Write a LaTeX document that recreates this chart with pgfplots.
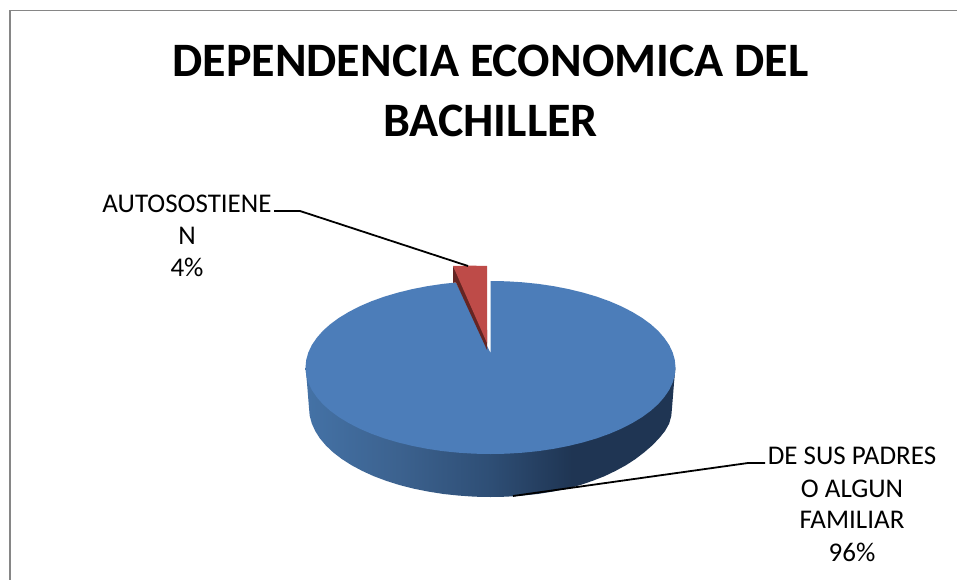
\documentclass[border=0pt]{standalone}
\usepackage{fontspec}
\setmainfont{Carlito}
\usepackage{pgfplots}
\pgfplotsset{compat=1.18}
\definecolor{topblue}{HTML}{4C7DB9}
\definecolor{redface}{HTML}{BE4B48}
\definecolor{reddark}{HTML}{652523}
\definecolor{frame}{HTML}{868686}
\definecolor{sa}{HTML}{4472A6}
\definecolor{sb}{HTML}{3C628F}
\definecolor{sc}{HTML}{2E4E75}
\definecolor{sd}{HTML}{1F3553}
\definecolor{se}{HTML}{1F3553}
\definecolor{sf}{HTML}{1F3553}
\pgfdeclarehorizontalshading{sideblue}{100bp}{
 color(0bp)=(sa);
 color(25bp)=(sa);
 color(37.5bp)=(sb);
 color(50bp)=(sc);
 color(61bp)=(sd);
 color(72bp)=(se);
 color(75bp)=(sf);
 color(100bp)=(sf)}
\begin{document}
\begin{tikzpicture}
\begin{axis}[scale only axis,width=957pt,height=580pt,xmin=0,xmax=957,ymin=0,ymax=580,
 y dir=reverse,axis lines=none,clip=true]
% page background keeps the full picture area
\addplot[draw=none,fill=white] coordinates {(0,0)(957,0)(957,580)(0,580)} -- cycle;
% frame
\addplot[frame,line width=2pt] coordinates {(10,580)(10,10.5)};
\addplot[frame,line width=1.5pt] coordinates {(9,10.5)(957,10.5)};
% side of the pie
\addplot[draw=none,shade,shading=sideblue] coordinates {
(305.5,367.5)(307,383)(309,408)(309.7,415.8)(311.8,423.5)(315.2,431)(319.9,438.4)(326,445.6)(333.3,452.5)(341.8,459)(351.5,465.2)(362.2,470.9)(373.8,476.2)(386.4,480.9)(399.7,485.1)(413.8,488.7)(428.4,491.6)(443.5,494)(459,495.6)(474.7,496.7)(490.5,497)
(506.3,496.7)(522,495.6)(537.5,494)(552.6,491.6)(567.2,488.7)(580,485.1)(592.5,480.9)(604.5,476.2)(615.5,470.9)(626,465.2)(635.5,459)(644,452.5)(652,445.6)(659,438.4)(665,431)(669.2,423.5)(671.3,415.8)(672,408)(674,383)(675.5,367.5)
} -- cycle;
% top of the large slice
\addplot[draw=none,fill=topblue] coordinates {
(490.5,353)(490.5,281)(506.6,281.3)(522.6,282.3)(538.4,283.9)(553.8,286.2)(568.7,289.1)(583,292.6)(596.6,296.6)(609.4,301.2)(621.3,306.3)(632.2,311.9)(642.1,317.9)(650.7,324.2)(658.2,330.9)(664.3,337.9)(669.2,345.1)(672.7,352.5)(674.8,360)(675.5,367.5)
(674.8,375)(672.7,382.5)(669.2,389.9)(664.3,397.1)(658.2,404.1)(650.7,410.8)(642.1,417.1)(632.2,423.1)(621.3,428.7)(609.4,433.8)(596.6,438.4)(583,442.4)(568.7,445.9)(553.8,448.8)(538.4,451.1)(522.6,452.7)(506.6,453.7)(490.5,454)
(474.4,453.7)(458.4,452.7)(442.6,451.1)(427.2,448.8)(412.3,445.9)(398,442.4)(384.4,438.4)(371.6,433.8)(359.7,428.7)(348.8,423.1)(338.9,417.1)(330.3,410.8)(322.8,404.1)(316.7,397.1)(311.8,389.9)(308.3,382.5)(306.2,375)(305.5,367.5)
(306.2,360)(308.3,352.5)(311.8,345.1)(316.7,337.9)(322.8,330.9)(330.3,324.2)(338.9,317.9)(348.8,311.9)(359.7,306.3)(371.6,301.2)(384.4,296.6)(398,292.6)(412.3,289.1)(427.2,286.2)(442.6,283.9)(456,282.5)
} -- cycle;
% small slice
\addplot[draw=none,fill=reddark] coordinates {(453,266)(453,282.8)(456,282.5)(487,350)(487,330)} -- cycle;
\addplot[draw=none,fill=redface] coordinates {(453,266)(470,265.6)(487,266)(487,343)} -- cycle;
% leader lines
\addplot[black,line width=1.8pt] coordinates {(274,211)(300,211)(468,266)};
\addplot[black,line width=1.8pt] coordinates {(513,496)(748,463)(765,463)};
% text
\node[anchor=base,font=\fontsize{48}{50}\selectfont\bfseries,inner sep=0pt] at (axis cs:490.5,77) {DEPENDENCIA ECONOMICA DEL};
\node[anchor=base,font=\fontsize{48}{50}\selectfont\bfseries,inner sep=0pt] at (axis cs:490.5,136.5) {BACHILLER};
\node[anchor=base,font=\fontsize{27}{28}\selectfont,inner sep=0pt] at (axis cs:187,212) {AUTOSOSTIENE};
\node[anchor=base,font=\fontsize{27}{28}\selectfont,inner sep=0pt] at (axis cs:187,244) {N};
\node[anchor=base,font=\fontsize{27}{28}\selectfont,inner sep=0pt] at (axis cs:187,276) {4\%};
\node[anchor=base,font=\fontsize{27}{28}\selectfont,inner sep=0pt] at (axis cs:852,464) {DE SUS PADRES};
\node[anchor=base,font=\fontsize{27}{28}\selectfont,inner sep=0pt] at (axis cs:852,497) {O ALGUN};
\node[anchor=base,font=\fontsize{27}{28}\selectfont,inner sep=0pt] at (axis cs:852,528) {FAMILIAR};
\node[anchor=base,font=\fontsize{27}{28}\selectfont,inner sep=0pt] at (axis cs:852,561) {96\%};
\end{axis}
\end{tikzpicture}
\end{document}
